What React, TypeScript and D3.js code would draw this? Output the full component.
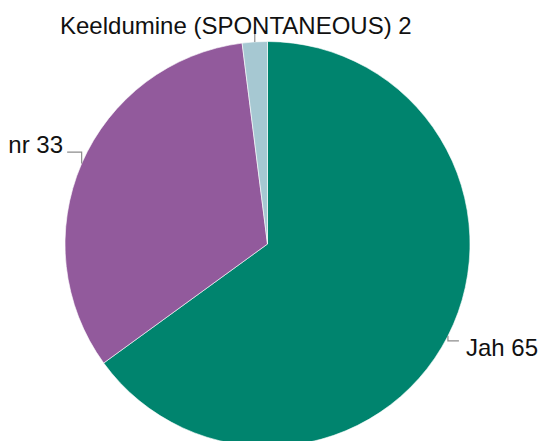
import React from "react";
import * as d3 from "d3";

const categories = ["Jah", "nr", "Keeldumine (SPONTANEOUS)"];
const values = [65, 33, 2];
const colors = ["#00846e", "#925a9c", "#a6c8d2"];

const W = 541;
const H = 441;
const cx = 267.5;
const cy = 244;
const R = 202.5;

// label layout: leader elbow offset (dy from arc point, then dx) and text anchor
const labelLayout = [
  { dy: 5, dx: 11, tx: 466, ty: 356, anchor: "start" },
  { dy: -11.5, dx: -14.5, tx: 63, ty: 153, anchor: "end" },
  { dy: -13.5, dx: 0, tx: 60, ty: 33.5, anchor: "start" },
];

export default function App() {
  const pie = d3.pie<number>().sort(null).value((d) => d);
  const arcs = pie(values);
  const arcGen = d3.arc<d3.PieArcDatum<number>>().innerRadius(0).outerRadius(R);

  return (
    <svg
      width={W}
      height={H}
      style={{ position: "absolute", left: 0, top: 0, background: "#fff" }}
      fontFamily="'Liberation Sans', Arial, sans-serif"
    >
      <g transform={`translate(${cx},${cy})`}>
        {arcs.map((a, i) => (
          <path key={i} d={arcGen(a) || ""} fill={colors[i]} stroke="#ffffff" strokeWidth={0.6} />
        ))}
      </g>
      {arcs.map((a, i) => {
        const mid = (a.startAngle + a.endAngle) / 2;
        const px = cx + R * Math.sin(mid);
        const py = cy - R * Math.cos(mid);
        const L = labelLayout[i];
        const ey = py + L.dy;
        const ex = px + L.dx;
        return (
          <g key={i}>
            <polyline
              points={`${px},${py} ${px},${ey} ${ex},${ey}`}
              fill="none"
              stroke="#8c8c8c"
              strokeWidth={1.2}
            />
            <text x={L.tx} y={L.ty} fontSize={24} fill="#111" textAnchor={L.anchor}>
              {`${categories[i]} ${values[i]}`}
            </text>
          </g>
        );
      })}
    </svg>
  );
}
